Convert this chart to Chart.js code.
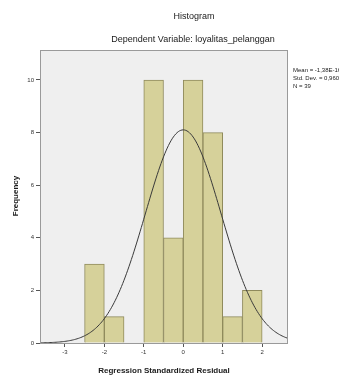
<!DOCTYPE html>
<html lang="en">
<head>
    <meta charset="UTF-8">
    <title>Histogram</title>
    <script src="https://cdn.jsdelivr.net/npm/chart.js"></script>
    <style>
        body {
            margin: 0;
            background: #fff;
        }

        #wrap {
            width: 339px;
            height: 378px;
            position: relative;
        }
    </style>
</head>
<body>
    <div id="wrap">
        <canvas id="histChart"></canvas>
    </div>
    <script>
        // bins of the residual histogram (centre of each 0.5-wide bin)
        const binCenters = [-2.25, -1.75, -1.25, -0.75, -0.25, 0.25, 0.75, 1.25, 1.75];
        const frequencies = [3, 1, 0, 10, 4, 10, 8, 1, 2];
        const binWidth = 0.5;

        // summary shown beside the plot, also used for the normal curve
        const residMean = 0;
        const residStdDev = 0.96;
        const residN = 39;
        const statsLines = ['Mean = -1,38E-16', 'Std. Dev. = 0,960', 'N = 39'];

        const xTicks = [-3, -2, -1, 0, 1, 2];
        const yTicks = [0, 2, 4, 6, 8, 10];
        const xRange = [-3.63, 2.63];
        const yRange = [0, 11.14];

        // normal density scaled to counts, sampled across the axis
        const curvePoints = [];
        for (let i = 0; i <= 200; i++) {
            const x = xRange[0] + (xRange[1] - xRange[0]) * i / 200;
            const z = (x - residMean) / residStdDev;
            const y = residN * binWidth / (residStdDev * Math.sqrt(2 * Math.PI)) * Math.exp(-0.5 * z * z);
            curvePoints.push({ x: x, y: y });
        }

        const textPlugin = {
            id: 'spssText',
            beforeDraw(chart) {
                const { ctx, chartArea } = chart;
                ctx.save();
                ctx.fillStyle = '#efefef';
                ctx.fillRect(chartArea.left, chartArea.top, chartArea.right - chartArea.left, chartArea.bottom - chartArea.top);
                ctx.restore();
            },
            afterDraw(chart) {
                const { ctx, chartArea } = chart;
                ctx.save();
                ctx.strokeStyle = '#9a9a9a';
                ctx.lineWidth = 1;
                ctx.strokeRect(chartArea.left + 0.5, chartArea.top + 0.5, chartArea.right - chartArea.left, chartArea.bottom - chartArea.top);

                ctx.fillStyle = '#1a1a1a';
                ctx.textAlign = 'center';
                ctx.textBaseline = 'middle';
                ctx.font = '9px "Liberation Sans", Arial, sans-serif';
                ctx.fillText('Histogram', 194, 17);
                ctx.fillText('Dependent Variable: loyalitas_pelanggan', 193, 40);

                ctx.font = 'bold 8px "Liberation Sans", Arial, sans-serif';
                ctx.fillText('Regression Standardized Residual', 164, 371);

                ctx.save();
                ctx.translate(16, 196);
                ctx.rotate(-Math.PI / 2);
                ctx.font = 'bold 8px "Liberation Sans", Arial, sans-serif';
                ctx.fillText('Frequency', 0, 0);
                ctx.restore();

                ctx.textAlign = 'left';
                ctx.font = '6px "Liberation Sans", Arial, sans-serif';
                statsLines.forEach((line, i) => {
                    ctx.fillText(line, 293, 70 + i * 8);
                });
                ctx.restore();
            }
        };

        new Chart(document.getElementById('histChart'), {
            type: 'bar',
            data: {
                datasets: [{
                    type: 'bar',
                    data: binCenters.map((c, i) => ({ x: c, y: frequencies[i] })),
                    backgroundColor: '#d6d19a',
                    borderColor: '#8f8a5c',
                    borderWidth: 1,
                    barPercentage: 1,
                    categoryPercentage: 1,
                    order: 2
                }, {
                    type: 'line',
                    data: curvePoints,
                    borderColor: '#3a3a3a',
                    borderWidth: 1,
                    pointRadius: 0,
                    tension: 0,
                    order: 1
                }]
            },
            options: {
                responsive: true,
                maintainAspectRatio: false,
                animation: false,
                layout: {
                    padding: { left: 0, right: 52, top: 50, bottom: 0 }
                },
                plugins: {
                    legend: { display: false },
                    tooltip: { enabled: false }
                },
                scales: {
                    x: {
                        type: 'linear',
                        offset: false,
                        min: xRange[0],
                        max: xRange[1],
                        afterBuildTicks: (scale) => {
                            scale.ticks = xTicks.map(v => ({ value: v }));
                        },
                        afterFit: (scale) => {
                            scale.height = 35;
                        },
                        grid: {
                            offset: false,
                            drawOnChartArea: false,
                            tickLength: 4,
                            color: '#555'
                        },
                        border: { color: '#555' },
                        ticks: {
                            color: '#333',
                            font: { size: 6, family: '"Liberation Sans", Arial' },
                            padding: 2,
                            maxRotation: 0
                        }
                    },
                    y: {
                        min: yRange[0],
                        max: yRange[1],
                        afterBuildTicks: (scale) => {
                            scale.ticks = yTicks.map(v => ({ value: v }));
                        },
                        afterFit: (scale) => {
                            scale.width = 40;
                        },
                        grid: {
                            drawOnChartArea: false,
                            tickLength: 4,
                            color: '#555'
                        },
                        border: { color: '#555' },
                        ticks: {
                            color: '#333',
                            font: { size: 6, family: '"Liberation Sans", Arial' },
                            padding: 2
                        }
                    }
                }
            },
            plugins: [textPlugin]
        });
    </script>
</body>
</html>
